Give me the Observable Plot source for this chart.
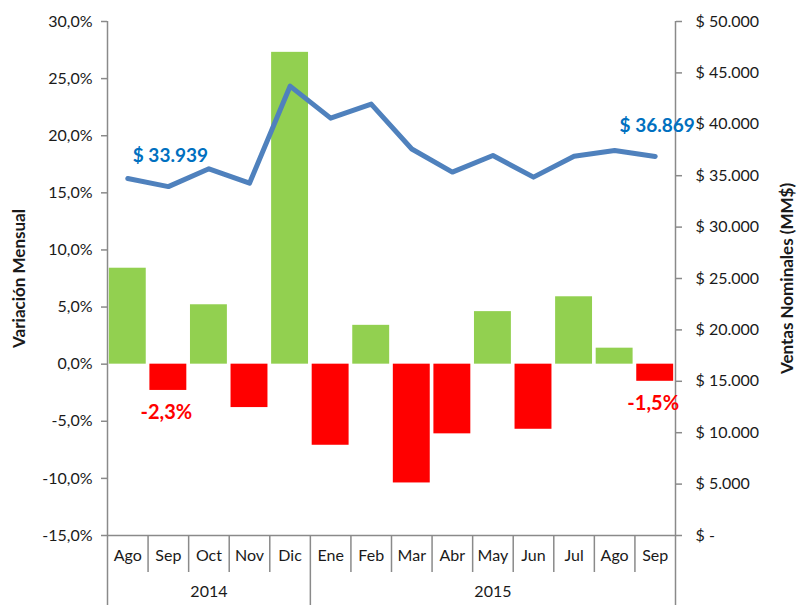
<!DOCTYPE html>
<html>
<head>
<meta charset="utf-8">
<script src="https://cdn.jsdelivr.net/npm/d3@7"></script>
<script src="https://cdn.jsdelivr.net/npm/@observablehq/plot@0.6"></script>
<style>
  html, body { margin: 0; padding: 0; background: #ffffff; }
  #chart { width: 798px; height: 605px; overflow: hidden; }
</style>
</head>
<body>
<div id="chart"></div>
<script>
// ---- Data ----
const months = ["Ago", "Sep", "Oct", "Nov", "Dic", "Ene", "Feb", "Mar", "Abr", "May", "Jun", "Jul", "Ago", "Sep"];
const years = ["2014", "2014", "2014", "2014", "2014", "2015", "2015", "2015", "2015", "2015", "2015", "2015", "2015", "2015"];
// Variación mensual (%)
const variacion = [8.4, -2.3, 5.2, -3.8, 27.3, -7.1, 3.4, -10.4, -6.1, 4.6, -5.7, 5.9, 1.4, -1.5];
// Ventas nominales (MM$)
const ventas = [34730, 33939, 35670, 34270, 43710, 40600, 41960, 37600, 35350, 36960, 34860, 36900, 37450, 36869];
// Axis ticks
const pctTicks = [-15, -10, -5, 0, 5, 10, 15, 20, 25, 30];
const ventasTicks = [0, 5000, 10000, 15000, 20000, 25000, 30000, 35000, 40000, 45000, 50000];
// Months carrying value labels
const labelled = ["2014-Sep", "2015-Sep"];

// ---- Layout / styles ----
const W = 798, H = 605;
const mL = 107, mR = 123, mT = 21, mB = 70;
const pctDomain = [-15, 30];
const ventasMax = 50000;
const grey = "#8a8a8a";
const textCol = "#1a1a1a";
const green = "#92D050", red = "#FF0000", lineBlue = "#4F81BD", labelBlue = "#0070C0";
const font = "Lato, 'Open Sans', sans-serif";

// ---- Helpers ----
const keys = months.map((m, i) => years[i] + "-" + m);
const data = months.map((m, i) => ({key: keys[i], month: m, year: years[i], v: variacion[i], s: ventas[i]}));
const toY = (s) => pctDomain[0] + (s / ventasMax) * (pctDomain[1] - pctDomain[0]);
const fromY = (y) => (y - pctDomain[0]) / (pctDomain[1] - pctDomain[0]) * ventasMax;
const fmtPct = (v) => v.toFixed(1).replace(".", ",") + "%";
const fmtVentas = (s) => {
  const r = Math.round(s);
  return r === 0 ? "$ -" : "$ " + d3.format(",")(r).replace(/,/g, ".");
};
const step = (W - mL - mR) / keys.length;
const plotH = H - mT - mB;

// separators
const yearList = Array.from(new Set(years));
const yearStart = keys.filter((k, i) => i > 0 && years[i] !== years[i - 1]);
const shortSeps = keys.filter((k, i) => i > 0 && !yearStart.includes(k));
const yearLabels = yearList.map((y) => {
  const ks = keys.filter((k, i) => years[i] === y);
  return {year: y, at: ks[Math.floor(ks.length / 2)]};
});
const labelData = data.filter((d) => labelled.includes(d.key));

const chart = Plot.plot({
  width: W,
  height: H,
  marginLeft: mL,
  marginRight: mR,
  marginTop: mT,
  marginBottom: mB,
  style: {fontFamily: font, fontSize: "16px", color: textCol, background: "#ffffff", overflow: "visible"},
  x: {type: "band", domain: keys, paddingInner: 0.09, paddingOuter: 0.045, round: false, axis: null},
  y: {domain: pctDomain},
  color: {type: "identity"},
  marks: [
    Plot.barY(data, {x: "key", y: "v", fill: (d) => (d.v >= 0 ? green : red)}),
    Plot.ruleY([pctDomain[0]], {stroke: grey, strokeWidth: 1.5}),
    Plot.ruleX(shortSeps, {x: (d) => d, dx: -step / 2, stroke: grey, strokeWidth: 1.5, insetTop: plotH, insetBottom: -37}),
    Plot.ruleX(yearStart, {x: (d) => d, dx: -step / 2, stroke: grey, strokeWidth: 1.5, insetTop: plotH, insetBottom: -mB}),
    Plot.ruleX([keys[0]], {x: (d) => d, dx: -step / 2, stroke: grey, strokeWidth: 1.5, insetBottom: -mB}),
    Plot.ruleX([keys[keys.length - 1]], {x: (d) => d, dx: step / 2, stroke: grey, strokeWidth: 1.5, insetBottom: -mB}),
    Plot.axisY(pctTicks, {anchor: "left", tickSize: 6, tickPadding: 9, stroke: grey, strokeWidth: 1.5, fill: textCol, fontSize: 16, tickFormat: fmtPct, label: null}),
    Plot.axisY(ventasTicks.map(toY), {anchor: "right", tickSize: 6, tickPadding: 14, stroke: grey, strokeWidth: 1.5, fill: textCol, fontSize: 16, tickFormat: (y) => fmtVentas(fromY(y)), label: null}),
    Plot.line(data, {x: "key", y: (d) => toY(d.s), stroke: lineBlue, strokeWidth: 5, strokeLinejoin: "round", strokeLinecap: "round"}),
    Plot.text(labelData, {x: "key", y: (d) => toY(d.s), text: (d) => fmtVentas(d.s), dy: -31, dx: 2, fill: labelBlue, fontWeight: "bold", fontSize: 19}),
    Plot.text(labelData, {x: "key", y: "v", text: (d) => fmtPct(d.v), dy: 22, dx: -2, fill: red, fontWeight: "bold", fontSize: 20}),
    Plot.text(data, {x: "key", text: "month", frameAnchor: "bottom", dy: 25, fill: textCol, fontSize: 16}),
    Plot.text(yearLabels, {x: "at", text: "year", frameAnchor: "bottom", dy: 61, fill: textCol, fontSize: 16}),
    Plot.text(["Variación Mensual"], {text: (d) => d, frameAnchor: "left", textAnchor: "middle", dx: -88, rotate: -90, fontWeight: "bold", fontSize: 17, fill: textCol}),
    Plot.text(["Ventas Nominales (MM$)"], {text: (d) => d, frameAnchor: "right", textAnchor: "middle", dx: 112, rotate: -90, fontWeight: "bold", fontSize: 17, fill: textCol})
  ]
});
document.getElementById("chart").appendChild(chart);
</script>
</body>
</html>
